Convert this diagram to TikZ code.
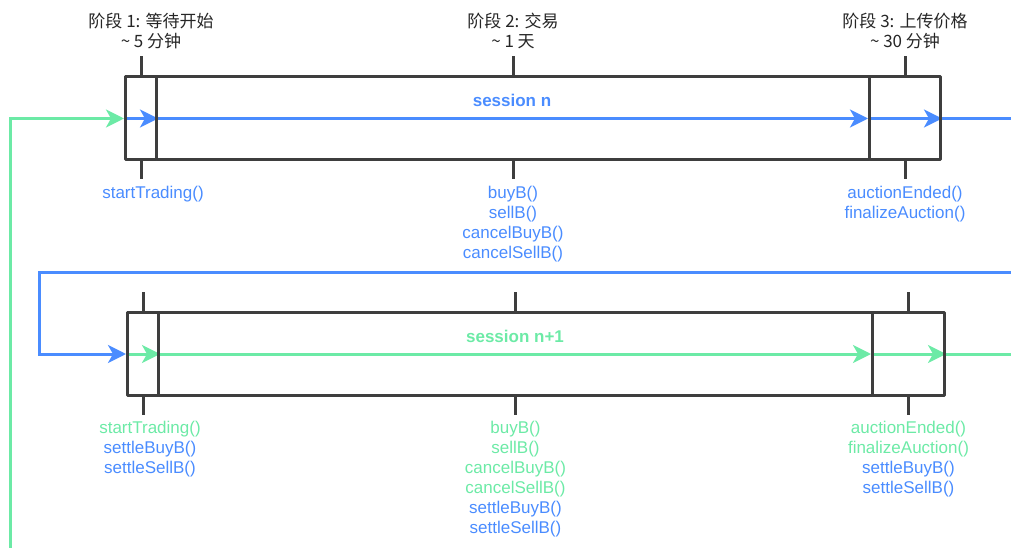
\documentclass[tikz,border=0pt]{standalone}
\usepackage{fontspec}
\setmainfont{Liberation Sans}
\newfontfamily\cjk{Noto Sans CJK SC}
\usetikzlibrary{arrows.meta,positioning,backgrounds}
\definecolor{lanse}{HTML}{4A8CFF}
\definecolor{luse}{HTML}{6CEAA6}
\definecolor{huise}{HTML}{3E3E3E}
\begin{document}
\begin{tikzpicture}[x=1pt,y=-1pt,>={Stealth[length=18pt,width=18pt,inset=5pt]},
	font=\fontsize{17}{20}\selectfont, line join=round,
	phasebox/.style={draw=huise,line width=3pt,minimum width=#1,minimum height=83pt,inner sep=0pt,anchor=west},
	tick/.style={draw=huise,line width=3pt},
	lan/.style={draw=lanse,line width=3pt},
	lv/.style={draw=luse,line width=3pt},
	head/.style={font=\cjk\fontsize{17}{20}\selectfont,text=black!85,align=center,inner sep=0pt},
	call/.style={align=center,inner sep=0pt}]
	\useasboundingbox (0,0) rectangle (1011,548);
	% session n
	\node[phasebox=31] (a1) at (124,118.5) {};
	\node[phasebox=713] (a2) at (155,118.5) {};
	\node[phasebox=71] (a3) at (868,118.5) {};
	% session n+1
	\node[phasebox=31] (b1) at (126,354) {};
	\node[phasebox=714] (b2) at (157,354) {};
	\node[phasebox=72] (b3) at (871,354) {};
	\foreach \n in {a1,a2,a3,b1,b2,b3}{
		\draw[tick] (\n.north) -- ++(0,-19) coordinate (\n-up);
		\draw[tick] (\n.south) -- ++(0,18) coordinate (\n-dn);
	}
	\node[head,above=7pt of a1-up,xshift=10pt] (h1) {阶段 1: 等待开始\\\textasciitilde\ 5 分钟};
	\node[head,above=7pt of a2-up] (h2) {阶段 2: 交易\\\textasciitilde\ 1 天};
	\node[head,above=7pt of a3-up] (h3) {阶段 3: 上传价格\\\textasciitilde\ 30 分钟};
	\node[font=\fontsize{17}{20}\selectfont\bfseries,text=lanse] (sn) at (512,100) {session n};
	\node[font=\fontsize{17}{20}\selectfont\bfseries,text=luse] (sm) at (515,336) {session n+1};
	\node[call,text=lanse,below=6pt of a1-dn,xshift=12pt] (ca1) {startTrading()};
	\node[call,text=lanse,below=6pt of a2-dn] (ca2) {buyB()\\sellB()\\cancelBuyB()\\cancelSellB()};
	\node[call,text=lanse,below=6pt of a3-dn] (ca3) {auctionEnded()\\finalizeAuction()};
	\node[call,below=6pt of b1-dn,xshift=7pt] (cb1) {\textcolor{luse}{startTrading()}\\\textcolor{lanse}{settleBuyB()}\\\textcolor{lanse}{settleSellB()}};
	\node[call,below=6pt of b2-dn] (cb2) {\textcolor{luse}{buyB()}\\\textcolor{luse}{sellB()}\\\textcolor{luse}{cancelBuyB()}\\\textcolor{luse}{cancelSellB()}\\\textcolor{lanse}{settleBuyB()}\\\textcolor{lanse}{settleSellB()}};
	\node[call,below=6pt of b3-dn] (cb3) {\textcolor{luse}{auctionEnded()}\\\textcolor{luse}{finalizeAuction()}\\\textcolor{lanse}{settleBuyB()}\\\textcolor{lanse}{settleSellB()}};
	% loose ends
	\coordinate (gin) at (10,548);
	\coordinate (aout) at (1011,118.5);
	\coordinate (bin) at (1011,272);
	\coordinate (bturn) at (39,272);
	\coordinate (bout) at (1011,354);
	\begin{scope}[on background layer]
		\draw[lv,->] (gin) |- (a1.west);
		\draw[lan,->] (a1.west) -- (a1.east);
		\draw[lan,->] (a1.east) -- (a3.west);
		\draw[lan,->] (a3.west) -- (a3.east);
		\draw[lan] (a3.east) -- (aout);
		\draw[lan,->] (bin) -- (bturn) |- (b1.west);
		\draw[lv,->] (b1.west) -- (b1.east);
		\draw[lv,->] (b1.east) -- (b3.west);
		\draw[lv,->] (b3.west) -- (b3.east);
		\draw[lv] (b3.east) -- (bout);
	\end{scope}
\end{tikzpicture}
\end{document}
